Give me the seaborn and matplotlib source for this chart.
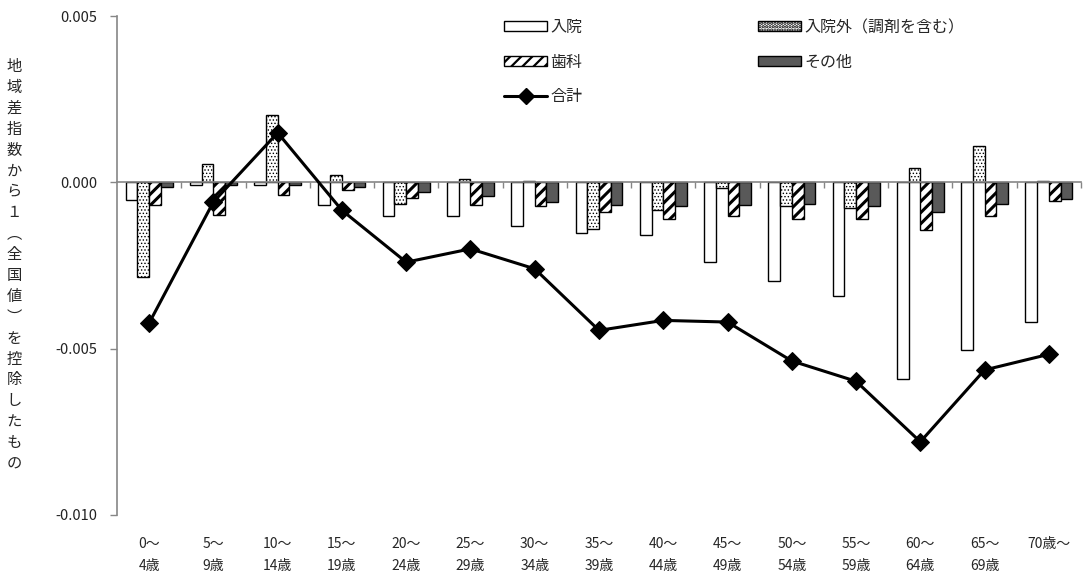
import numpy as np
import pandas as pd
import matplotlib
matplotlib.use("Agg")
import matplotlib.pyplot as plt
from matplotlib.patches import Patch
from matplotlib.lines import Line2D
import seaborn as sns

ages = ['0～\n4歳', '5～\n9歳', '10～\n14歳', '15～\n19歳', '20～\n24歳', '25～\n29歳',
        '30～\n34歳', '35～\n39歳', '40～\n44歳', '45～\n49歳', '50～\n54歳', '55～\n59歳',
        '60～\n64歳', '65～\n69歳', '70歳～']
series_names = ['入院', '入院外（調剤を含む）', '歯科', 'その他']
inpatient = [-0.00054, -0.00007, -0.00007, -0.00067, -0.00101, -0.00101, -0.00132, -0.00153,
             -0.00158, -0.00240, -0.00296, -0.00341, -0.00590, -0.00504, -0.00420]
outpatient = [-0.00286, 0.00054, 0.00201, 0.00023, -0.00064, 0.00010, 0.00003, -0.00140,
              -0.00084, -0.00017, -0.00071, -0.00076, 0.00044, 0.00109, 0.00003]
dental = [-0.00067, -0.00097, -0.00038, -0.00024, -0.00047, -0.00068, -0.00071, -0.00089,
          -0.00111, -0.00101, -0.00111, -0.00111, -0.00144, -0.00102, -0.00055]
other = [-0.00014, -0.00007, -0.00007, -0.00015, -0.00029, -0.00042, -0.00059, -0.00068,
         -0.00071, -0.00068, -0.00064, -0.00071, -0.00089, -0.00064, -0.00051]
total = [-0.00423, -0.00059, 0.00149, -0.00084, -0.00240, -0.00200, -0.00260, -0.00445,
         -0.00415, -0.00420, -0.00537, -0.00598, -0.00780, -0.00564, -0.00517]
total_name = '合計'
yticks = [0.005, 0.000, -0.005, -0.010]
ylabel = '地域差指数から１︵全国値︶を控除したもの'

sns.set_theme(style="white")
plt.rcParams['font.family'] = ['Noto Sans CJK JP', 'DejaVu Sans']
plt.rcParams['hatch.linewidth'] = 1.6
plt.rcParams['axes.unicode_minus'] = False

df = pd.DataFrame({
    'age': np.tile(ages, 4),
    'series': np.repeat(series_names, len(ages)),
    'value': np.concatenate([inpatient, outpatient, dental, other]),
})

fig = plt.figure(figsize=(10.87, 5.78), dpi=100)
ax = fig.add_axes([117/1087, 1-515/578, (1081-117)/1087, (515-16)/578])

faces = ['white', 'white', 'white', '#595959']
hatches = [None, '.....', '///', None]
hatch_lw = [1.0, 0.6, 2.2, 1.0]
sns.barplot(data=df, x='age', y='value', hue='series', hue_order=series_names,
            palette=faces, width=0.73, edgecolor='black', linewidth=1.0,
            saturation=1, legend=False, ax=ax)
for cont, h, hl in zip(ax.containers, hatches, hatch_lw):
    for p in cont.patches:
        if h:
            p.set_hatch(h)
            try:
                p.set_hatch_linewidth(hl)
            except Exception:
                pass

sns.lineplot(x=np.arange(len(ages)), y=total, color='black', linewidth=2.2,
             marker='D', markersize=9, markeredgecolor='black', ax=ax, zorder=5)

ax.set_xlim(-0.5, len(ages) - 0.5)
ax.set_ylim(-0.010, 0.005)
ax.set_yticks(yticks)
ax.set_yticklabels([f"{v:.3f}" for v in yticks], fontsize=10.5, color='#222222')
ax.tick_params(axis='y', which='major', direction='out', length=5, width=1,
               color='#868686', left=True, pad=9)
for s in ['top', 'right']:
    ax.spines[s].set_visible(False)
ax.spines['left'].set_color('#868686')
ax.spines['left'].set_linewidth(1.2)
ax.spines['bottom'].set_position(('data', 0))
ax.spines['bottom'].set_color('#868686')
ax.spines['bottom'].set_linewidth(1.2)
ax.set_xticks(np.arange(len(ages)) + 0.5, minor=False)
ax.set_xticklabels([])
ax.tick_params(axis='x', which='major', direction='out', length=4, width=1,
               color='#868686', bottom=True)
ax.set_xlabel('')
ax.set_ylabel('')

sec = ax.secondary_xaxis('bottom')
sec.set_xticks(np.arange(len(ages)))
sec.set_xticklabels(ages, fontsize=10, linespacing=1.75, va='top')
sec.tick_params(length=0, pad=16)
sec.spines['bottom'].set_visible(False)

fig.text(14/1087, 1-265/578, "\n".join(ylabel), fontsize=11, ha='center', va='center',
         linespacing=1.3)

handles = [
    Patch(facecolor='white', edgecolor='black', linewidth=1.0),
    Patch(facecolor='white', edgecolor='black', hatch='///', linewidth=1.0),
    Line2D([0], [0], color='black', linewidth=2.2, marker='D', markersize=8),
    Patch(facecolor='white', edgecolor='black', hatch='.....', linewidth=1.0),
    Patch(facecolor='#595959', edgecolor='black', linewidth=1.0),
]
labels = [series_names[0], series_names[2], total_name, series_names[1], series_names[3]]
fig.legend(handles, labels, loc='upper left', bbox_to_anchor=(504/1087, 1-19/578),
           ncol=2, frameon=False, fontsize=11.5, handlelength=2.7, handleheight=0.6,
           handletextpad=0.2, labelspacing=1.1, columnspacing=11.0, borderpad=0,
           borderaxespad=0)

fig.savefig("out.png", dpi=100, facecolor='white')
